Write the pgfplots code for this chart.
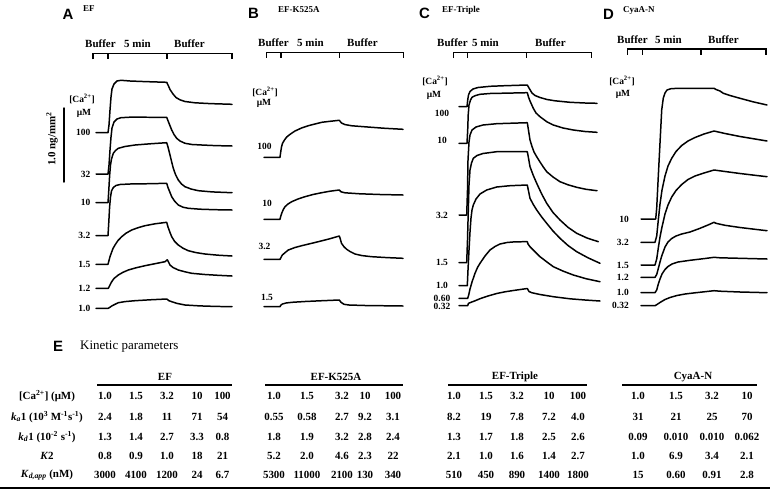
\documentclass[border=0pt]{standalone}
\usepackage{fontspec}
\setmainfont{Liberation Serif}
\newfontfamily\sanslib{Liberation Sans}
\usepackage{pgfplots}
\pgfplotsset{compat=1.18}
\tikzset{crv/.style={black, line width=1.5pt, line join=round, line cap=round},
  rul/.style={black, line width=1.2pt}}
\newcommand\fLab{\fontsize{9.5}{11}\selectfont\bfseries}
\newcommand\fTab{\fontsize{11}{13}\selectfont\bfseries}
\newcommand\fTml{\fontsize{11}{13}\selectfont\bfseries}
\newcommand\fPan{\sanslib\fontsize{15}{17}\selectfont\bfseries}
\newcommand\fPtl{\fontsize{9}{10}\selectfont\bfseries}
\newcommand\fScale{\fontsize{11}{13}\selectfont\bfseries}
\newcommand\fKin{\fontsize{13}{15}\selectfont}
\begin{document}
\begin{tikzpicture}
\useasboundingbox (0,0) rectangle (775bp,493bp);
\begin{axis}[at={(0,493bp)}, anchor=north west, scale only axis,
  width=775bp, height=493bp, xmin=0, xmax=775, ymin=0, ymax=493,
  y dir=reverse, hide axis, clip=false]
% ---------- timelines
\addplot[rul] coordinates {(93,59.3) (93,53.3) (232,53.3) (232,59.3)};
\addplot[rul] coordinates {(108,53.3) (108,59.3)};
\addplot[rul] coordinates {(167,53.3) (167,59.3)};
\addplot[rul] coordinates {(266.7,57.5) (266.7,52.3) (403.3,52.3) (403.3,57.5)};
\addplot[rul] coordinates {(281,52.3) (281,57.5)};
\addplot[rul] coordinates {(339.3,52.3) (339.3,57.5)};
\addplot[rul] coordinates {(453.3,58) (453.3,52.7) (591.7,52.7) (591.7,58)};
\addplot[rul] coordinates {(467.7,52.7) (467.7,58)};
\addplot[rul] coordinates {(526.7,52.7) (526.7,58)};
\addplot[rul] coordinates {(627.7,54.5) (627.7,49) (766,49) (766,54.5)};
\addplot[rul] coordinates {(642.7,49) (642.7,54.5)};
\addplot[rul] coordinates {(701,49) (701,54.5)};
% ---------- scale bar
\addplot[crv] coordinates {(64,108) (64,182)};
% ---------- panel A (EF)
\addplot[crv] coordinates {(96,132.7) (108,132.7) (109,125) (110,110) (111,97) (112,89) (114,84) (117,81) (121,80.3) (130,81) (145,81.6) (166.7,82.3) (168.5,86) (170,89.5) (173,94) (176,97.5) (180,99.8) (185,101.5) (195,102.8) (210,103.6) (232,104.3)};
\addplot[crv] coordinates {(96,174) (108,174) (109,165) (110,150) (111,137) (112,128) (114,122) (117,119) (121,117.7) (130,117.2) (166.7,117.3) (168.5,122) (171.7,130) (174,134.5) (176.7,138.3) (180,141) (185,143.3) (192,144.5) (201.7,145) (215,145.6) (232,146)};
\addplot[crv] coordinates {(96,202.7) (108,202.7) (108.8,190) (109.6,176) (110.5,165) (111.5,159) (113.3,153.3) (115.5,150.5) (118.3,148.3) (125,146.5) (135,145) (150,143.8) (166.7,142.7) (168,147) (170,155) (171.7,162) (173.3,168.3) (175.5,174.5) (178.3,180) (181.5,184) (185,186.7) (191,189) (198.3,190.7) (212,191.9) (232,192.7)};
\addplot[crv] coordinates {(96,235.7) (108,235.7) (108.8,222) (109.6,207) (110.5,197) (111.5,191) (113.3,187.5) (116,185.5) (120,184.5) (130,184) (150,183.7) (166.7,183.3) (168,187.5) (170,192.5) (171.7,196.7) (174.5,201) (178.3,205) (183,207.2) (188.3,208.3) (200,209.2) (215,209.7) (232,210)};
\addplot[crv] coordinates {(96,264.3) (108,264.3) (109,260.5) (110,256.7) (111.5,252.5) (113,248.5) (115,245) (118,240.5) (121.7,236.7) (126,233.2) (131.7,230) (138,227.7) (145,225.7) (155,223.8) (166.7,222.3) (168,227) (170,232.5) (171.7,236.7) (174.5,241.2) (178.3,245) (183,248.2) (188.3,250.7) (196,252.6) (205,254) (218,255.2) (232,256)};
\addplot[crv] coordinates {(96,288.3) (108.3,288.3) (110,285) (111.7,281.7) (114,278.5) (118.3,275) (123,272.3) (128.3,270) (136,267.8) (145,265.7) (155,263.7) (165,261.7) (167.3,259.8) (168.5,262) (170,265) (173,267.5) (178.3,270) (185,271.8) (191.7,273.3) (205,274.5) (218,275.3) (232,276)};
\addplot[crv] coordinates {(96,308.3) (108.3,308.3) (110,307.2) (111.7,306) (115,304.3) (118.3,302.7) (125,301.6) (135,300.7) (150,299.8) (166.7,299) (169,300.7) (171.7,301.7) (177,303.4) (185,305) (200,305.9) (215,306.4) (232,306.7)};
% ---------- panel B (EF-K525A)
\addplot[crv] coordinates {(264,157.3) (280,157.3) (280.7,152) (281.5,147) (282.5,143.3) (284.5,140) (286.7,137) (290.5,134) (295,131) (301.5,128) (308.3,125.7) (315,124) (321.7,122.3) (330,121.3) (339.3,120.3) (341.5,123) (345,124.6) (352,125.8) (365,126.8) (385,128.3) (403,129.3)};
\addplot[crv] coordinates {(264,219.3) (280,219.3) (280.8,216) (281.7,213.3) (283.3,209.5) (285,206.7) (288,204) (291.7,201.7) (298,199) (305,196.7) (313,194.5) (321.7,192.7) (330,191.2) (339.3,190) (341,191.8) (345,192.8) (360,193.8) (380,194.5) (403,195)};
\addplot[crv] coordinates {(264,259.3) (280,259.3) (281,257.5) (282.3,255) (285,252.7) (288.3,250) (295,247.5) (301.7,245.7) (310,243.7) (318.3,241.7) (330,238.7) (339.3,236) (340.3,239) (341.5,243.3) (344,246.8) (346.7,249.3) (350,251.5) (355,254) (362,255.6) (371.7,256.7) (387,257.6) (403,258.3)};
\addplot[crv] coordinates {(264,306.7) (280,306.7) (281,305) (282.5,304) (286,303) (292,302.3) (305,301.5) (320,300.8) (339.3,300) (341,302.3) (344,304.3) (349,305) (365,305.5) (403,306)};
% ---------- panel C (EF-Triple)
\addplot[crv] coordinates {(459,106.7) (467,106.7) (467.7,100) (468.5,95) (470,91.5) (473,89) (478,87.5) (490,86.3) (505,85.7) (527.3,85) (529,88) (532,93) (535,95.5) (540,97.5) (547,99.5) (555,100.8) (570,102.3) (585,103) (597,103.3)};
\addplot[crv] coordinates {(459,143.3) (467,143.3) (467.7,130) (468.2,115) (469,105) (470.5,100) (472,97.3) (475,95.7) (480,94.3) (490,93.5) (527.3,92.7) (528.5,97) (530,101) (533.3,108.3) (536,113) (540,116.7) (546.7,121.7) (553.3,125) (563,128) (573.3,130) (585,131.5) (597,132.3)};
\addplot[crv] coordinates {(459,215) (466.7,215) (467.5,190) (468,160) (469,142) (470,135) (472,130) (476,127) (483,125) (496.7,123.7) (527.3,122.7) (528.3,129) (530,140) (532,146.5) (534,152) (536.7,156.7) (540,162) (543.3,167) (546.7,171.7) (553,177) (560,181.7) (568,184.8) (576.7,187.3) (586,189.3) (597,190.7)};
\addplot[crv] coordinates {(459,262.7) (466.7,262.7) (467.5,240) (468.3,210) (469,185) (470,170) (471.5,163) (473.3,158.3) (477,155.5) (483,153.5) (496.7,151.7) (527.3,151.7) (528.3,157) (530,166.7) (533.3,175.5) (536.7,183.3) (541.7,194) (546.7,203.3) (553,212.5) (560,220) (568,227.3) (576.7,233.3) (587,238) (598.3,241.7)};
\addplot[crv] coordinates {(459,285.7) (467.3,285.7) (468,270) (469,250) (470,232) (471,218) (472,210) (473.3,205) (476,199) (480,194) (486.7,190) (496.7,187) (510,185.7) (527.3,185) (528.3,190) (530,198.3) (533.3,204.5) (536.7,210) (541.7,217) (546.7,223.3) (553,231) (560,238.3) (568,245.5) (576.7,251.7) (588,257.8) (600,263.3)};
\addplot[crv] coordinates {(459,298.3) (467.7,298.3) (468.7,295) (470,289) (472,282) (475,273.3) (477.5,267.5) (480,263.3) (485,256) (490,250) (495,246.5) (500,244) (507,242.5) (515,241.8) (527.3,241.7) (528,244) (530,246.7) (535,251.8) (540,256.7) (546.7,261.8) (553.3,266.7) (563.3,271.2) (573.3,275) (586,278.7) (600,281.7)};
\addplot[crv] coordinates {(459,305.7) (467.7,305.7) (468.5,303.3) (471,302.3) (475,300.8) (480,298.7) (488,296) (496.7,293.5) (505,291.8) (513.3,290.5) (527.3,288.5) (529,291.5) (531.7,292.7) (540,294.5) (553.3,296.7) (570,298.8) (585,300) (600,301)};
% ---------- panel D (CyaA-N)
\addplot[crv] coordinates {(641,219) (655.7,219) (656.7,208) (658.3,176) (660,143) (661.7,110) (663.3,98) (665,93) (667,90) (671,88.7) (678,88.3) (714,88.3) (716,89.5) (720,91) (723.3,93.3) (730,95.5) (740,98.3) (753,101.8) (767,105)};
\addplot[crv] coordinates {(641,242.3) (655,242.3) (656.7,236) (658.3,220) (660,204) (662,190) (665,176) (668,166) (671.7,158.3) (676,151.5) (681.7,145.5) (688,141) (695,137.5) (704,134) (714,131) (725,133.5) (740,136.5) (755,139) (767,141)};
\addplot[crv] coordinates {(641,265) (655,265) (656.7,259) (658.3,248) (660,237) (662,227) (665,214) (668,205) (671.7,197) (676,190.5) (681.7,184.5) (688,179.5) (695,176) (704,173) (714,170) (725,171.5) (740,173.5) (755,175.3) (767,176.7)};
\addplot[crv] coordinates {(641,277.3) (655,277.3) (656.7,274.5) (658.3,268.5) (660,262) (661.7,256) (665,247) (668,242) (671.7,238.5) (676,236) (681.7,234) (690,232) (700,228.3) (708,225) (714,222.3) (716,223.3) (725,225.3) (740,227.5) (755,229.3) (767,230.7)};
\addplot[crv] coordinates {(641,292.7) (655,292.7) (656.7,290) (658.3,284) (660,279) (662,274) (665,269.5) (668,266.5) (672,264) (678,262) (690,260.3) (705,258.5) (714,257.3) (720,257.8) (740,258.3) (767,259)};
\addplot[crv] coordinates {(641,305.7) (655,305.7) (657,304.5) (660,302.5) (665,299.5) (670,297.5) (677,295.5) (685,294) (695,292.8) (705,291.7) (714,290.7) (720,291.2) (740,292) (767,292.7)};
% ---------- table rules
\addplot[rul] coordinates {(97,385) (232,385)};
\addplot[rul] coordinates {(265,385) (403,385)};
\addplot[rul] coordinates {(448,385) (587,385)};
\addplot[rul] coordinates {(622,385) (757,385)};
\addplot[black, line width=1.6pt] coordinates {(0,488) (770,488)};
\end{axis}
\begin{scope}[shift={(0bp,493bp)}, x=1bp, y=-1bp, every node/.style={inner sep=0pt}]
% panel titles
\node[anchor=base west, font=\fPan] at (62.5,19.3) {A};
\node[anchor=base west, font=\fPtl] at (83,11.5) {EF};
\node[anchor=base west, font=\fPan] at (248,19) {B};
\node[anchor=base west, font=\fPtl] at (278,12.5) {EF-K525A};
\node[anchor=base west, font=\fPan] at (419,18.5) {C};
\node[anchor=base west, font=\fPtl] at (442,12.5) {EF-Triple};
\node[anchor=base west, font=\fPan] at (603,19.5) {D};
\node[anchor=base west, font=\fPtl] at (623,12.5) {CyaA-N};
% timeline labels
\node[anchor=base west, font=\fTml] at (85,48) {Buffer};
\node[anchor=base west, font=\fTml] at (124,48) {5 min};
\node[anchor=base west, font=\fTml] at (174,48) {Buffer};
\node[anchor=base west, font=\fTml] at (258,47) {Buffer};
\node[anchor=base west, font=\fTml] at (297,47) {5 min};
\node[anchor=base west, font=\fTml] at (347,47) {Buffer};
\node[anchor=base west, font=\fTml] at (437,47) {Buffer};
\node[anchor=base west, font=\fTml] at (472,47) {5 min};
\node[anchor=base west, font=\fTml] at (535,47) {Buffer};
\node[anchor=base west, font=\fTml] at (617,44) {Buffer};
\node[anchor=base west, font=\fTml] at (655,44) {5 min};
\node[anchor=base west, font=\fTml] at (708,44) {Buffer};
% Ca labels
\node[font=\fLab] at (82,99) {[Ca\textsuperscript{2+}]};
\node[font=\fLab] at (84,113) {μM};
\node[font=\fLab] at (265,92) {[Ca\textsuperscript{2+}]};
\node[font=\fLab] at (264,103.5) {μM};
\node[font=\fLab] at (435,81) {[Ca\textsuperscript{2+}]};
\node[font=\fLab] at (434,95) {μM};
\node[font=\fLab] at (622,81) {[Ca\textsuperscript{2+}]};
\node[font=\fLab] at (623,94) {μM};
\node[rotate=90, font=\fScale] at (52,139) {1.0 ng/mm\textsuperscript{2}};
% curve labels A
\foreach \y/\t in {132.7/100,174/32,202.7/10,235.7/3.2,264.3/1.5,288.3/1.2,308.3/1.0}
  \node[anchor=east, font=\fLab] at (90.5,\y) {\t};
% B
\node[font=\fLab] at (264.5,146.5) {100};
\node[font=\fLab] at (267,203) {10};
\node[font=\fLab] at (264.5,246.5) {3.2};
\node[font=\fLab] at (267,297.5) {1.5};
% C
\foreach \y/\t in {113.3/100,140/10,215/3.2,262.7/1.5,285.7/1.0,298.3/0.60,306.5/0.32}
  \node[font=\fLab] at (442,\y) {\t};
% D
\foreach \y/\t in {219/10,242.3/3.2,265/1.5,277.3/1.2,292.7/1.0,305.7/0.32}
  \node[anchor=east, font=\fLab] at (629,\y) {\t};
% table
\node[anchor=base west, font=\fPan] at (53,352) {E};
\node[anchor=base west, font=\fKin] at (80,350) {Kinetic parameters};
\node[font=\fTab] at (165,377) {EF};
\node[font=\fTab] at (336,377) {EF-K525A};
\node[font=\fTab] at (515,377) {EF-Triple};
\node[font=\fTab] at (693,377) {CyaA-N};
\node[font=\fTab] at (47,396) {[Ca\textsuperscript{2+}] (μM)};
\node[font=\fTab] at (47,417) {\textit{k}\textsubscript{\textit{a}}1 (10\textsuperscript{3} M\textsuperscript{-1}s\textsuperscript{-1})};
\node[font=\fTab] at (47,437) {\textit{k}\textsubscript{\textit{d}}1 (10\textsuperscript{-2} s\textsuperscript{-1})};
\node[font=\fTab] at (47,456) {\textit{K}2};
\node[font=\fTab] at (47,475) {\textit{K}\textsubscript{\textit{d,app}} (nM)};
\foreach \x/\a/\b/\c/\d/\e in {105/1.0/2.4/1.3/0.8/3000, 136/1.5/1.8/1.4/0.9/4100, 167/3.2/11/2.7/1.0/1200, 197/10/71/3.3/18/24, 222.5/100/54/0.8/21/6.7,
  274/1.0/0.55/1.8/5.2/5300, 307/1.5/0.58/1.9/2.0/11000, 342/3.2/2.7/3.2/4.6/2100, 365/10/9.2/2.8/2.3/130, 393/100/3.1/2.4/22/340,
  454/1.0/8.2/1.3/2.1/510, 486/1.5/19/1.7/1.0/450, 517/3.2/7.8/1.8/1.6/890, 549/10/7.2/2.5/1.4/1400, 578/100/4.0/2.6/2.7/1800,
  638/1.0/31/0.09/1.0/15, 676/1.5/21/0.010/6.9/0.60, 712/3.2/25/0.010/3.4/0.91, 747/10/70/0.062/2.1/2.8}
{
  \node[font=\fTab] at (\x,396) {\a};
  \node[font=\fTab] at (\x,417) {\b};
  \node[font=\fTab] at (\x,437) {\c};
  \node[font=\fTab] at (\x,456) {\d};
  \node[font=\fTab] at (\x,475) {\e};
}
\end{scope}
\end{tikzpicture}
\end{document}
